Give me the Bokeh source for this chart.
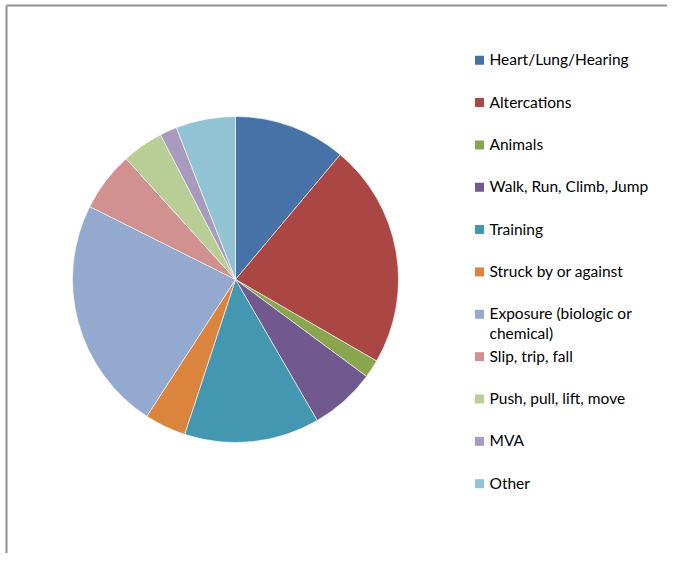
import numpy as np
from bokeh.plotting import figure
from bokeh.models import Range1d
from bokeh.embed import file_html
from bokeh.resources import INLINE
from bokeh.core.properties import value

categories = [
    "Heart/Lung/Hearing",
    "Altercations",
    "Animals",
    "Walk, Run, Climb, Jump",
    "Training",
    "Struck by or against",
    "Exposure (biologic or\nchemical)",
    "Slip, trip, fall",
    "Push, pull, lift, move",
    "MVA",
    "Other",
]
values = [11.1, 22.2, 1.8, 6.5, 13.4, 4.1, 23.2, 5.9, 4.1, 1.7, 5.9]
colors = ["#4672A7", "#AA4744", "#89A54E", "#71588F", "#4397B0", "#DB843D",
          "#94A9CF", "#D09190", "#B9CE97", "#A99BBD", "#92C3D4"]

W, H = 667, 553
p = figure(width=W, height=H, x_range=Range1d(0, W), y_range=Range1d(0, H),
           output_backend="svg", toolbar_location=None, min_border=0)
p.axis.visible = False
p.grid.visible = False
p.outline_line_color = None
p.background_fill_color = "white"
p.border_fill_color = "white"

# chart border (top & left visible)
p.segment(x0=[6, 6], y0=[H - 5, 0], x1=[W, 6], y1=[H - 5, H - 5],
          line_color="#8f8f8f", line_width=2)

frac = np.array(values) / sum(values)
cum = np.cumsum(frac)
start = np.pi / 2 - 2 * np.pi * cum
end = np.pi / 2 - 2 * np.pi * (cum - frac)
cx, cy, r = 235, H - 279, 163
p.wedge(x=cx, y=cy, radius=r, start_angle=start, end_angle=end,
        fill_color=colors, line_color="white", line_width=0.6)

n = len(categories)
row_y = [H - (59.7 + 42.35 * i) for i in range(n)]
p.scatter(x=[479] * n, y=row_y, marker="square", size=9,
          fill_color=colors, line_color=None)
p.text(x=[489] * n, y=[y + 1 for y in row_y], text=categories,
       text_font=value("Lato"), text_font_size="15.5px",
       text_baseline="top", text_align="left", text_color="#000000",
       text_line_height=1.12, y_offset=-9)

open("out.html", "w").write(file_html(p, INLINE))
